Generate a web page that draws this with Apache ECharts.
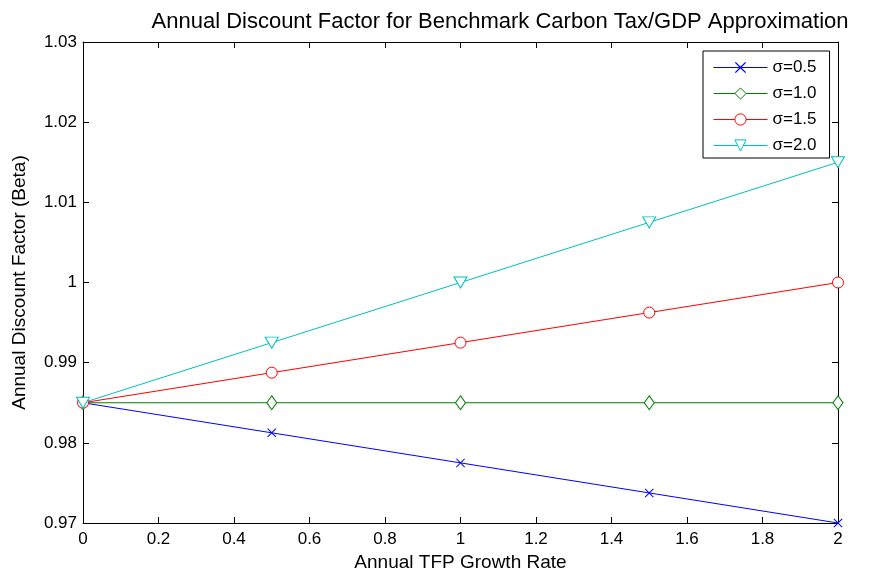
<!DOCTYPE html>
<html><head><meta charset="utf-8">
<script src="https://cdn.jsdelivr.net/npm/echarts@6/dist/echarts.min.js"></script>
<style>html,body{margin:0;padding:0;background:#fff}#c{width:878px;height:579px}</style>
</head><body><div id="c"></div>
<script>
const xValues = [0, 0.5, 1, 1.5, 2];
const sigma05 = [0.985, 0.98125, 0.9775, 0.97375, 0.970];
const sigma10 = [0.985, 0.985, 0.985, 0.985, 0.985];
const sigma15 = [0.985, 0.98875, 0.9925, 0.99625, 1.000];
const sigma20 = [0.985, 0.9925, 1.000, 1.0075, 1.015];
const seriesNames = ['σ=0.5', 'σ=1.0', 'σ=1.5', 'σ=2.0'];
const colors = ['#0000ff', '#008000', '#ff0000', '#00bfbf'];

const font = 'Liberation Sans, Arial, sans-serif';
const pairs = arr => xValues.map((x, i) => [x, arr[i]]);
const fmt = v => String(+v.toFixed(4));

const symbols = [
  'path://M0,0.8L0.8,0L5,4.2L9.2,0L10,0.8L5.8,5L10,9.2L9.2,10L5,5.8L0.8,10L0,9.2L4.2,5Z',
  'path://M5,0L10,7L5,14L0,7Z',
  'path://M10,5A5,5,0,1,1,0,5A5,5,0,1,1,10,5Z',
  'path://M0,0L12,0L6,10Z'
];
const sizes = [9, [10, 14], 11, [13, 11]];
const fills = ['#0000ff', '#ffffff', '#ffffff', '#ffffff'];
const borders = [0, 1, 1, 1];
const datasets = [sigma05, sigma10, sigma15, sigma20];

const axisCommon = {
  axisLine: {show: true, onZero: false, lineStyle: {color: '#000', width: 1}},
  axisTick: {show: true, inside: true, length: 6, lineStyle: {color: '#000'}},
  splitLine: {show: false},
  axisLabel: {color: '#000', fontFamily: font, fontSize: 17}
};

const chart = echarts.init(document.getElementById('c'));
chart.setOption({
  animation: false,
  backgroundColor: '#fff',
  title: {
    text: 'Annual Discount Factor for Benchmark Carbon Tax/GDP Approximation',
    left: 495, top: 6, textAlign: 'center',
    textStyle: {fontFamily: font, fontSize: 22, fontWeight: 'normal', color: '#000'}
  },
  legend: {
    orient: 'vertical', left: 703, top: 51,
    backgroundColor: '#fff', borderColor: '#000', borderWidth: 1,
    padding: [8, 13, 4, 10], itemGap: 9, itemWidth: 54, itemHeight: 14,
    textStyle: {fontFamily: font, fontSize: 17, color: '#000'},
    data: seriesNames.map((n, i) => ({
      name: n,
      itemStyle: {color: fills[i], borderColor: colors[i], borderWidth: borders[i]},
      lineStyle: {color: colors[i], width: 1}
    }))
  },
  grid: {left: 83, right: 40, top: 42, bottom: 56},
  xAxis: [
    Object.assign({}, axisCommon, {
      type: 'value', min: 0, max: 2, interval: 0.2, position: 'bottom',
      name: 'Annual TFP Growth Rate', nameLocation: 'middle', nameGap: 29,
      nameTextStyle: {fontFamily: font, fontSize: 19, color: '#000'},
      axisLabel: Object.assign({}, axisCommon.axisLabel, {formatter: fmt, margin: 8})
    }),
    Object.assign({}, axisCommon, {
      type: 'value', min: 0, max: 2, interval: 0.2, position: 'top',
      axisLabel: {show: false}
    })
  ],
  yAxis: [
    Object.assign({}, axisCommon, {
      type: 'value', min: 0.97, max: 1.03, interval: 0.01, position: 'left',
      name: 'Annual Discount Factor (Beta)', nameLocation: 'middle', nameGap: 54,
      nameTextStyle: {fontFamily: font, fontSize: 19, color: '#000'},
      axisLabel: Object.assign({}, axisCommon.axisLabel, {formatter: fmt, margin: 6})
    }),
    Object.assign({}, axisCommon, {
      type: 'value', min: 0.97, max: 1.03, interval: 0.01, position: 'right',
      axisLabel: {show: false}
    })
  ],
  series: datasets.map((d, i) => ({
    name: seriesNames[i],
    type: 'line',
    data: pairs(d),
    symbol: symbols[i],
    symbolSize: sizes[i],
    showAllSymbol: true,
    clip: false,
    lineStyle: {color: colors[i], width: 1},
    itemStyle: {color: fills[i], borderColor: colors[i], borderWidth: borders[i]},
    emphasis: {disabled: true}
  }))
});
</script>
</body></html>
